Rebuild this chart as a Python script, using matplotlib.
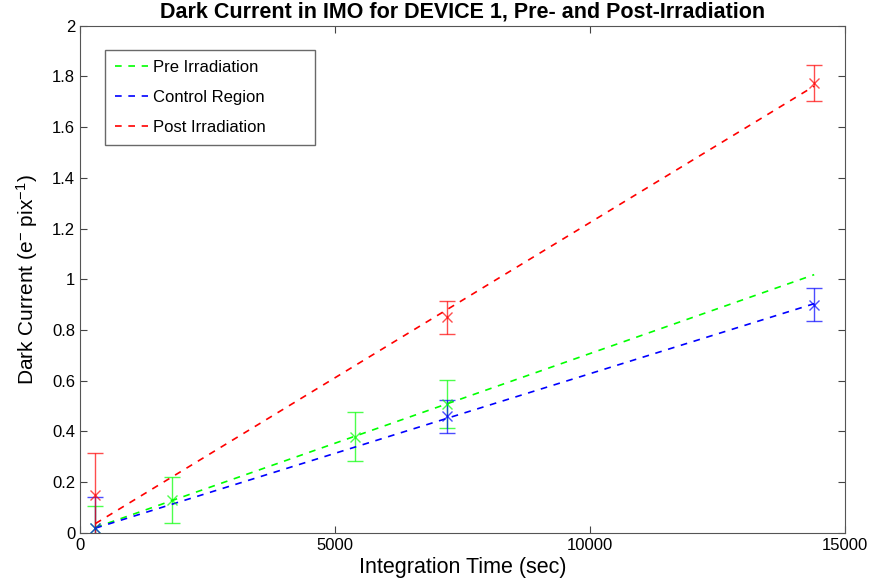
import numpy as np
import matplotlib
matplotlib.use("Agg")
import matplotlib.pyplot as plt

plt.rcParams['font.family'] = ['Liberation Sans', 'DejaVu Sans']
plt.rcParams['mathtext.fontset'] = 'custom'
plt.rcParams['mathtext.rm'] = 'Liberation Sans'
plt.rcParams['mathtext.it'] = 'Liberation Sans'

# Measured points (integration time in sec, dark current, error)
pre_t = [300, 1800, 5400, 7200]
pre_dc = [0.02, 0.13, 0.38, 0.51]
pre_err = [0.085, 0.09, 0.095, 0.095]

ctrl_t = [300, 7200, 14400]
ctrl_dc = [0.02, 0.46, 0.90]
ctrl_err = [0.12, 0.065, 0.065]

post_t = [300, 7200, 14400]
post_dc = [0.15, 0.85, 1.775]
post_err = [0.165, 0.065, 0.072]

fit_t = [300, 14400]

series = [
    ("Pre Irradiation", pre_t, pre_dc, pre_err, "#00ff00"),
    ("Control Region", ctrl_t, ctrl_dc, ctrl_err, "#0000ff"),
    ("Post Irradiation", post_t, post_dc, post_err, "#ff0000"),
]

fig = plt.figure(figsize=(8.7, 5.85), dpi=100)
ax = fig.add_axes([0.092, 0.089, 0.879, 0.867])

for label, t, dc, err, col in series:
    t = np.array(t, dtype=float)
    dc = np.array(dc)
    # linear fit through the origin
    slope = np.sum(t * dc) / np.sum(t * t)
    ft = np.array(fit_t, dtype=float)
    ax.plot(ft, slope * ft, linestyle=(0, (4, 4)), color=col, lw=1.2, label=label)
    ax.errorbar(t, dc, yerr=err, fmt='x', color=col, ecolor=col, elinewidth=1.0,
                capsize=6, capthick=1.0, markersize=7, mew=1.0, alpha=0.7)

ax.set_xlim(0, 15000)
ax.set_ylim(0, 2)
ax.set_xticks([0, 5000, 10000, 15000])
ax.set_yticks(np.arange(0, 2.01, 0.2))
ax.set_yticklabels(["0", "0.2", "0.4", "0.6", "0.8", "1", "1.2", "1.4", "1.6", "1.8", "2"])
ax.tick_params(direction='in', top=True, right=True, labelsize=12, length=5, color='#444444')
for sp in ax.spines.values():
    sp.set_color('#555555')

ax.set_xlabel("Integration Time (sec)", fontsize=15.5, labelpad=3)
ax.set_ylabel("Dark Current (e$^{-}$ pix$^{-1}$)", fontsize=15, labelpad=9)
ax.set_title("Dark Current in IMO for DEVICE 1, Pre- and Post-Irradiation",
             fontsize=15.5, fontweight='bold', pad=6)

leg = ax.legend(loc='upper left', bbox_to_anchor=(0.0327, 0.761, 0.2745, 0.191),
                mode='expand', borderaxespad=0, fontsize=12, frameon=True, fancybox=False,
                handlelength=2.0, handletextpad=0.3, borderpad=0.6, labelspacing=0.9)
leg.get_frame().set_edgecolor('#444444')
leg.get_frame().set_linewidth(1.0)

fig.savefig("out.png", dpi=100)
